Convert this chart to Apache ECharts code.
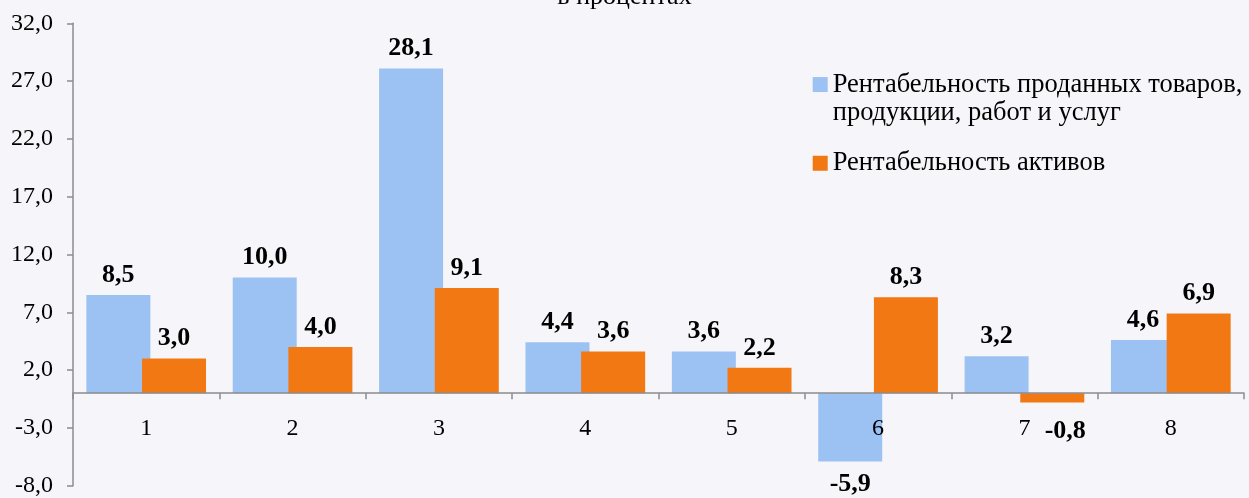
<!DOCTYPE html>
<html>
<head>
<meta charset="utf-8">
<script src="https://cdn.jsdelivr.net/npm/echarts@6/dist/echarts.min.js"></script>
<style>
html,body{margin:0;padding:0;background:#f6f6fa;}
#chart{width:1249px;height:498px;}
</style>
</head>
<body>
<div id="chart"></div>
<script>
const titleText = 'в процентах';
const categories = ['1','2','3','4','5','6','7','8'];
const seriesNames = ['Рентабельность проданных товаров,\nпродукции, работ и услуг', 'Рентабельность активов'];
const salesProfitability = [8.5, 10.0, 28.1, 4.4, 3.6, -5.9, 3.2, 4.6];
const assetProfitability = [3.0, 4.0, 9.1, 3.6, 2.2, 8.3, -0.8, 6.9];
const yTicks = [-8, -3, 2, 7, 12, 17, 22, 27, 32];

const FONT = "'Liberation Serif', 'Times New Roman', serif";
const fmt = v => Number(v).toFixed(1).replace('.', ',');
const axisColor = '#8c8c8c';

const GRID_TOP = 23.3, GRID_BOTTOM = 12.3, CH = 498;
const yMin = -8, yMax = 32;
const zeroOffset = -(CH - GRID_TOP - GRID_BOTTOM) * (0 - yMin) / (yMax - yMin);

const labelBase = {
  show: true,
  position: 'outside',
  distance: 7,
  fontFamily: FONT,
  fontSize: 26,
  fontWeight: 'bold',
  color: '#000',
  formatter: p => fmt(p.value)
};

const salesData = salesProfitability.map((v, i) =>
  (i === 5 ? { value: v, label: { offset: [0, 3] } } : v));
const assetData = assetProfitability.map((v, i) =>
  (i === 6 ? { value: v, label: { offset: [13, 9] } } : v));

const chart = echarts.init(document.getElementById('chart'), null, { renderer: 'canvas' });
chart.setOption({
  backgroundColor: '#f6f6fa',
  animation: false,
  title: {
    text: titleText,
    left: 'center',
    top: -16,
    padding: 0,
    textStyle: { fontFamily: FONT, fontSize: 26, fontWeight: 'normal', color: '#000' }
  },
  grid: { left: 73, right: 5, top: GRID_TOP, bottom: GRID_BOTTOM, outerBoundsMode: 'none', containLabel: false },
  legend: [
    {
      data: [seriesNames[0]],
      orient: 'vertical',
      left: 812.7,
      top: 70.3,
      padding: 0,
      itemWidth: 15,
      itemHeight: 43.5,
      icon: 'path://M0,0L15,0L15,15L0,15Z M0,43.5',
      textStyle: { fontFamily: FONT, fontSize: 26.5, color: '#000', lineHeight: 28.5 }
    },
    {
      data: [seriesNames[1]],
      orient: 'vertical',
      left: 812.7,
      top: 149,
      padding: 0,
      itemWidth: 15,
      itemHeight: 15,
      icon: 'rect',
      textStyle: { fontFamily: FONT, fontSize: 26.5, color: '#000', lineHeight: 28.5 }
    }
  ],
  xAxis: {
    type: 'category',
    data: categories,
    z: 3,
    offset: zeroOffset,
    axisLine: { onZero: false, lineStyle: { color: axisColor, width: 1.5 } },
    axisTick: { show: true, length: 6, lineStyle: { color: axisColor, width: 1.5 } },
    axisLabel: { fontFamily: FONT, fontSize: 24, color: '#000', margin: 23 },
    splitLine: { show: false }
  },
  yAxis: {
    type: 'value',
    min: yMin,
    max: yMax,
    axisLine: { show: true, lineStyle: { color: axisColor, width: 1.5 } },
    axisTick: { show: true, length: 6, customValues: yTicks, lineStyle: { color: axisColor, width: 1.5 } },
    axisLabel: { fontFamily: FONT, fontSize: 24, color: '#000', margin: 20, customValues: yTicks, formatter: v => fmt(v) },
    splitLine: { show: false }
  },
  series: [
    {
      name: seriesNames[0],
      type: 'bar',
      data: salesData,
      barWidth: 64,
      barGap: '-13%',
      itemStyle: { color: '#9bc2f2' },
      label: labelBase
    },
    {
      name: seriesNames[1],
      type: 'bar',
      data: assetData,
      barWidth: 64,
      barGap: '-13%',
      itemStyle: { color: '#f17812' },
      label: labelBase
    }
  ]
});
</script>
</body>
</html>
